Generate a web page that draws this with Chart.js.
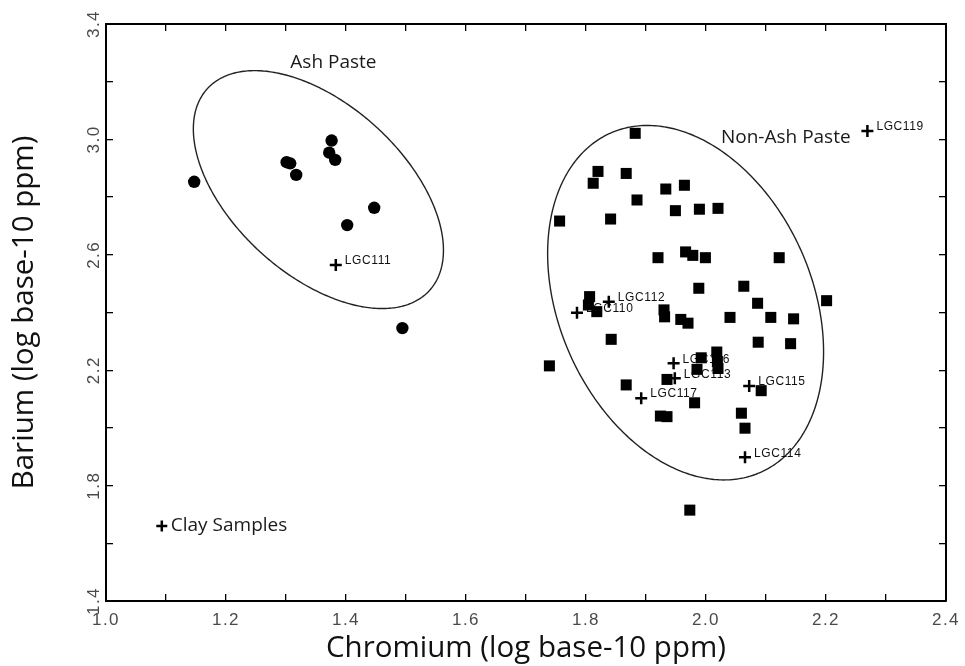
<!DOCTYPE html>
<html><head><meta charset="utf-8">
<script src="https://cdn.jsdelivr.net/npm/chart.js@4.4.1/dist/chart.umd.min.js"></script>
<style>html,body{margin:0;padding:0;background:#fff;}#wrap{width:965px;height:666px;position:relative;}</style>
</head><body><div id="wrap"><canvas id="c"></canvas></div>
<script>
// ---- data (log base-10 ppm) ----
const ashCr = [1.147, 1.301, 1.307, 1.317, 1.376, 1.372, 1.382, 1.447, 1.402, 1.494];
const ashBa = [2.853, 2.921, 2.917, 2.877, 2.996, 2.954, 2.929, 2.763, 2.703, 2.346];

const nonAshCr = [1.882, 1.820, 1.812, 1.867, 1.933, 1.964, 1.885, 1.949, 1.989, 2.020,
  1.756, 1.841, 1.920, 1.966, 1.978, 1.999, 2.122, 1.988, 2.063, 2.201, 2.086,
  1.806, 1.804, 1.818, 1.930, 1.931, 1.958, 1.970, 2.040, 2.108, 2.146,
  1.842, 2.087, 2.141, 1.739, 1.992, 2.018, 2.019, 1.985, 2.020, 1.935, 1.867,
  2.092, 1.981, 2.059, 2.065, 1.924, 1.935, 1.973];
const nonAshBa = [3.021, 2.889, 2.848, 2.882, 2.828, 2.841, 2.790, 2.753, 2.758, 2.761,
  2.717, 2.724, 2.590, 2.610, 2.598, 2.590, 2.590, 2.484, 2.491, 2.441, 2.432,
  2.455, 2.426, 2.403, 2.409, 2.385, 2.376, 2.363, 2.383, 2.383, 2.378,
  2.307, 2.297, 2.292, 2.215, 2.243, 2.263, 2.230, 2.203, 2.206, 2.168, 2.149,
  2.129, 2.087, 2.051, 1.999, 2.041, 2.039, 1.715];

const clayNames = ['LGC111', 'LGC119', 'LGC112', 'LGC110', 'LGC116', 'LGC113', 'LGC117', 'LGC115', 'LGC114'];
const clayCr = [1.383, 2.269, 1.838, 1.785, 1.946, 1.948, 1.892, 2.072, 2.065];
const clayBa = [2.565, 3.029, 2.437, 2.399, 2.224, 2.172, 2.103, 2.145, 1.898];

const xTickLabels = ['1.0', '1.2', '1.4', '1.6', '1.8', '2.0', '2.2', '2.4'];
const yTickLabels = ['1.4', '1.8', '2.2', '2.6', '3.0', '3.4'];

// ellipses: [centre], [end of first axis], [end of second axis] in data units
const ashEllipse = [[1.354, 2.826], [1.539, 2.476], [1.258, 2.608]];
const nonAshEllipse = [[1.966, 2.434], [2.091, 1.846], [1.773, 2.256]];

const groupLabels = ['Ash Paste', 'Non-Ash Paste'];
const groupLabelCr = [1.379, 2.133];
const groupLabelBa = [3.265, 3.007];

const legendText = 'Clay Samples';
const legendCr = 1.093, legendBa = 1.660;

// ---- chart ----
const toPts = (xs, ys) => xs.map((v, i) => ({x: v, y: ys[i]}));

const overlay = {
  id: 'overlay',
  beforeDatasetsDraw(chart) {
    const {ctx, scales: {x, y}} = chart;
    ctx.save();
    ctx.letterSpacing = '0px';
    ctx.strokeStyle = '#222';
    ctx.lineWidth = 1.4;
    [ashEllipse, nonAshEllipse].forEach(e => {
      const cx = x.getPixelForValue(e[0][0]), cy = y.getPixelForValue(e[0][1]);
      const ax = x.getPixelForValue(e[1][0]) - cx, ay = y.getPixelForValue(e[1][1]) - cy;
      const bx = x.getPixelForValue(e[2][0]) - cx, by = y.getPixelForValue(e[2][1]) - cy;
      ctx.beginPath();
      for (let i = 0; i <= 360; i++) {
        const t = i * Math.PI / 180;
        const px = cx + Math.cos(t) * ax + Math.sin(t) * bx;
        const py = cy + Math.cos(t) * ay + Math.sin(t) * by;
        if (i === 0) ctx.moveTo(px, py); else ctx.lineTo(px, py);
      }
      ctx.closePath();
      ctx.stroke();
    });
    ctx.font = '12px "Liberation Sans", Arial, sans-serif';
    ctx.letterSpacing = '0.6px';
    ctx.fillStyle = '#111';
    ctx.textBaseline = 'middle';
    ctx.textAlign = 'left';
    clayNames.forEach((n, i) => {
      ctx.fillText(n, x.getPixelForValue(clayCr[i]) + 9, y.getPixelForValue(clayBa[i]) - 4);
    });
    ctx.restore();
  },
  afterDatasetsDraw(chart) {
    // tick labels (drawn after the datasets) use a slightly spaced-out type
    chart.ctx.letterSpacing = '1.5px';
  },
  afterDraw(chart) {
    const {ctx, scales: {x, y}} = chart;
    ctx.letterSpacing = '0px';
    ctx.save();
    ctx.fillStyle = '#1a1a1a';
    ctx.font = '19px "Open Sans", sans-serif';
    ctx.textBaseline = 'middle';
    ctx.textAlign = 'center';
    groupLabels.forEach((t, i) => {
      ctx.fillText(t, x.getPixelForValue(groupLabelCr[i]), y.getPixelForValue(groupLabelBa[i]));
    });
    // legend
    const lx = x.getPixelForValue(legendCr), ly = y.getPixelForValue(legendBa);
    ctx.strokeStyle = '#000';
    ctx.lineWidth = 2.5;
    ctx.beginPath();
    ctx.moveTo(lx - 5.5, ly); ctx.lineTo(lx + 5.5, ly);
    ctx.moveTo(lx, ly - 5.5); ctx.lineTo(lx, ly + 5.5);
    ctx.stroke();
    ctx.textAlign = 'left';
    ctx.fillText(legendText, lx + 9, ly);
    ctx.restore();
  }
};

const tickGrid = {display: true, drawOnChartArea: false, drawTicks: true, tickLength: -7, color: '#000', lineWidth: 1.3};
const border = {display: true, color: '#000', width: 2};
const tickFont = {size: 17, family: '"Liberation Sans", Arial, sans-serif'};
const titleFont = {size: 29.5, family: '"Open Sans", sans-serif'};

new Chart(document.getElementById('c'), {
  type: 'scatter',
  data: {
    datasets: [
      {label: 'Clay Samples', data: toPts(clayCr, clayBa), pointStyle: 'cross', pointRadius: 6,
        pointHoverRadius: 6, borderColor: '#000', backgroundColor: '#000', pointBorderWidth: 2.5},
      {label: 'Ash Paste', data: toPts(ashCr, ashBa), pointStyle: 'circle', pointRadius: 6.2,
        pointHoverRadius: 6.2, backgroundColor: '#000', borderColor: '#000', pointBorderWidth: 0},
      {label: 'Non-Ash Paste', data: toPts(nonAshCr, nonAshBa), pointStyle: 'rect', pointRadius: 7.8,
        pointHoverRadius: 7.8, backgroundColor: '#000', borderColor: '#000', pointBorderWidth: 0}
    ]
  },
  options: {
    responsive: true,
    maintainAspectRatio: false,
    animation: false,
    events: [],
    layout: {padding: 0},
    plugins: {legend: {display: false}, tooltip: {enabled: false}},
    scales: {
      x: {
        type: 'linear', position: 'bottom', min: 1.0, max: 2.4,
        afterFit(s) { s.height = 65; s.paddingLeft = 0; s.paddingRight = 0; },
        border, grid: tickGrid,
        ticks: {
          stepSize: 0.1, autoSkip: false, maxRotation: 0, minRotation: 0, padding: 16, z: 1,
          color: '#4a4a4a', font: tickFont,
          callback: v => { const s = Number(v).toFixed(1); return xTickLabels.includes(s) ? s : ''; }
        },
        title: {display: true, text: 'Chromium (log base-10 ppm)', color: '#111', font: titleFont, padding: {top: 0, bottom: 0}}
      },
      x2: {
        type: 'linear', position: 'top', min: 1.0, max: 2.4,
        afterFit(s) { s.height = 24; s.paddingLeft = 0; s.paddingRight = 0; },
        border, grid: tickGrid,
        ticks: {stepSize: 0.1, display: false}
      },
      y: {
        type: 'linear', position: 'left', min: 1.4, max: 3.4,
        afterFit(s) { s.width = 106; s.paddingTop = 0; s.paddingBottom = 0; },
        border, grid: tickGrid,
        ticks: {
          stepSize: 0.2, autoSkip: false, minRotation: 90, maxRotation: 90, crossAlign: 'center', padding: 7, z: 1,
          color: '#4a4a4a', font: tickFont,
          callback: v => { const s = Number(v).toFixed(1); return yTickLabels.includes(s) ? s : ''; }
        },
        title: {display: true, text: 'Barium (log base-10 ppm)', color: '#111', font: titleFont, padding: {top: 7, bottom: 0}}
      },
      y2: {
        type: 'linear', position: 'right', min: 1.4, max: 3.4,
        afterFit(s) { s.width = 19; s.paddingTop = 0; s.paddingBottom = 0; },
        border, grid: tickGrid,
        ticks: {stepSize: 0.2, display: false}
      }
    }
  },
  plugins: [overlay]
});
</script>
</body></html>
